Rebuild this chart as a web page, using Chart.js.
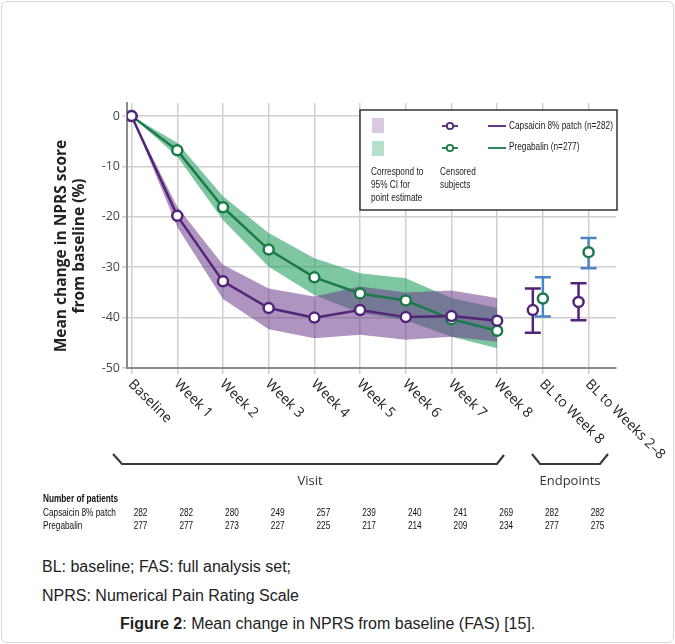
<!DOCTYPE html>
<html>
<head>
<meta charset="utf-8">
<script src="https://cdn.jsdelivr.net/npm/chart.js@4.4.1/dist/chart.umd.min.js"></script>
<style>
  body { margin: 0; background: #fff; }
  #frame { position: absolute; left: 1px; top: 1px; width: 671px; height: 640px; border: 1px solid #d6d6d6; border-radius: 6px; }
  #chartBox { position: absolute; left: 0; top: 0; width: 675px; height: 540px; }
  .note { position: absolute; left: 42px; font: 16px 'Liberation Sans', Arial, sans-serif; color: #222; white-space: nowrap; }
</style>
</head>
<body>
<div id="frame"></div>
<div id="chartBox"><canvas id="nprsChart" width="675" height="540"></canvas></div>
<div class="note" style="top:558px">BL: baseline; FAS: full analysis set;</div>
<div class="note" style="top:587px">NPRS: Numerical Pain Rating Scale</div>
<div class="note" style="top:615px; left:120px"><b>Figure 2</b>: Mean change in NPRS from baseline (FAS) [15].</div>
<script>
// Categories on the x axis
const visits = ['Baseline', 'Week 1', 'Week 2', 'Week 3', 'Week 4', 'Week 5', 'Week 6', 'Week 7', 'Week 8', 'BL to Week 8', 'BL to Weeks 2–8'];
const yTicks = [0, -10, -20, -30, -40, -50];

// Visit series (Baseline .. Week 8)
const capsaicinMean  = [0, -19.8, -32.8, -38.1, -40.0, -38.5, -39.9, -39.7, -40.6];
const capsaicinUpper = [0, -18.0, -29.5, -34.2, -35.8, -33.8, -35.0, -34.6, -36.1];
const capsaicinLower = [0, -22.0, -36.3, -42.3, -44.1, -43.4, -44.4, -43.8, -44.8];
const pregabalinMean  = [0, -6.8, -18.1, -26.5, -32.0, -35.2, -36.6, -40.3, -42.6];
const pregabalinUpper = [0, -5.3, -15.9, -23.2, -28.2, -31.2, -32.2, -36.1, -38.1];
const pregabalinLower = [0, -8.0, -20.6, -29.9, -35.5, -39.1, -40.5, -43.8, -46.1];

// Endpoints (BL to Week 8, BL to Weeks 2-8)
const capsaicinEp     = [-38.5, -36.9];
const capsaicinEpLow  = [-43.0, -40.5];
const capsaicinEpHigh = [-34.2, -33.2];
const pregabalinEp     = [-36.2, -27.0];
const pregabalinEpLow  = [-39.8, -30.2];
const pregabalinEpHigh = [-32.0, -24.2];

// Number of patients
const capsaicinN  = [282, 282, 280, 249, 257, 239, 240, 241, 269, 282, 282];
const pregabalinN = [277, 277, 273, 227, 225, 217, 214, 209, 234, 277, 275];

const PURPLE = '#52247a';
const GREEN = '#1b7a4a';
const BLUE = '#4a86c4';

const toXY = (arr, shift) => arr.map((v, i) => ({ x: i + (shift || 0), y: v }));
const epXY = (arr, shift) => arr.map((v, i) => ({ x: 9 + i + shift, y: v }));

// condensed text: Liberation Sans squeezed horizontally
function narrowText(ctx, text, x, y, align, bold) {
    ctx.save();
    ctx.font = (bold ? 'bold ' : '') + "11px 'Liberation Sans', Arial, sans-serif";
    ctx.textAlign = align;
    ctx.textBaseline = 'middle';
    ctx.translate(x, y);
    ctx.scale(0.75, 1);
    ctx.fillText(text, 0, 0);
    ctx.restore();
}

// Error bars, x labels, brackets, legend box and patient table
const extrasPlugin = {
    id: 'extras',
    beforeDatasetsDraw(chart) {
        const ctx = chart.ctx, xs = chart.scales.x, ys = chart.scales.y;
        const bars = [
            [capsaicinEpLow, capsaicinEpHigh, -0.22, PURPLE],
            [pregabalinEpLow, pregabalinEpHigh, 0, BLUE]
        ];
        ctx.save();
        ctx.lineWidth = 2.5;
        bars.forEach(([lo, hi, shift, color]) => {
            ctx.strokeStyle = color;
            lo.forEach((v, i) => {
                const x = xs.getPixelForValue(9 + i + shift);
                const y1 = ys.getPixelForValue(v), y2 = ys.getPixelForValue(hi[i]);
                ctx.beginPath();
                ctx.moveTo(x, y1); ctx.lineTo(x, y2);
                ctx.moveTo(x - 8, y1); ctx.lineTo(x + 8, y1);
                ctx.moveTo(x - 8, y2); ctx.lineTo(x + 8, y2);
                ctx.stroke();
            });
        });
        ctx.restore();
    },
    afterDraw(chart) {
        const ctx = chart.ctx, xs = chart.scales.x;
        const area = chart.chartArea;
        ctx.save();

        // y axis title
        ctx.fillStyle = '#222';
        ctx.font = "bold 15.5px 'Open Sans', sans-serif";
        ctx.textAlign = 'center';
        ctx.textBaseline = 'middle';
        ctx.save();
        ctx.translate(62, 246);
        ctx.rotate(-Math.PI / 2);
        ctx.fillText('Mean change in NPRS score', 0, 0);
        ctx.fillText('from baseline (%)', 0, 18);
        ctx.restore();

        // rotated x labels
        ctx.font = "14px 'Open Sans', sans-serif";
        ctx.fillStyle = '#222';
        ctx.textAlign = 'left';
        ctx.textBaseline = 'middle';
        visits.forEach((lab, i) => {
            const x = xs.getPixelForValue(i);
            ctx.save();
            ctx.translate(x - 1, area.bottom + 14);
            ctx.rotate(Math.PI / 4);
            ctx.fillText(lab, 0, 0);
            ctx.restore();
        });

        // brackets
        ctx.strokeStyle = '#3a3a3a';
        ctx.lineWidth = 2.2;
        ctx.beginPath();
        ctx.moveTo(113, 454); ctx.lineTo(122, 464); ctx.lineTo(497, 464); ctx.lineTo(504, 455);
        ctx.moveTo(532, 454); ctx.lineTo(540, 464); ctx.lineTo(600, 464); ctx.lineTo(608, 454);
        ctx.stroke();
        ctx.font = "13px 'Open Sans', sans-serif";
        ctx.fillStyle = '#333';
        ctx.textAlign = 'center';
        ctx.fillText('Visit', 310, 481);
        ctx.fillText('Endpoints', 570, 481);

        // patient table
        ctx.fillStyle = '#111';
        narrowText(ctx, 'Number of patients', 43, 499, 'left', true);
        narrowText(ctx, 'Capsaicin 8% patch', 43, 513, 'left');
        narrowText(ctx, 'Pregabalin', 43, 526, 'left');
        visits.forEach((_, i) => {
            const x = xs.getPixelForValue(i) + 9;
            narrowText(ctx, String(capsaicinN[i]), x, 513, 'center');
            narrowText(ctx, String(pregabalinN[i]), x, 526, 'center');
        });

        // legend box
        ctx.fillStyle = '#fff';
        ctx.fillRect(360, 110, 257, 100);
        ctx.strokeStyle = '#333';
        ctx.lineWidth = 1.5;
        ctx.strokeRect(360, 110, 257, 100);
        ctx.fillStyle = '#d9c9e0';
        ctx.fillRect(372, 118, 12, 15);
        ctx.fillStyle = '#b4dfcb';
        ctx.fillRect(372, 141, 12, 15);
        ctx.fillStyle = '#222';
        narrowText(ctx, 'Correspond to', 371, 172, 'left');
        narrowText(ctx, '95% CI for', 371, 185, 'left');
        narrowText(ctx, 'point estimate', 371, 198, 'left');
        narrowText(ctx, 'Censored', 440, 172, 'left');
        narrowText(ctx, 'subjects', 440, 185, 'left');
        narrowText(ctx, 'Capsaicin 8% patch (n=282)', 509, 126, 'left');
        narrowText(ctx, 'Pregabalin (n=277)', 509, 147, 'left');
        [[PURPLE, 126], [GREEN, 148]].forEach(([c, y]) => {
            ctx.strokeStyle = c;
            ctx.lineWidth = 1.8;
            ctx.beginPath(); ctx.moveTo(442, y); ctx.lineTo(458, y); ctx.stroke();
            ctx.fillStyle = '#fff';
            ctx.beginPath(); ctx.arc(450, y, 3.2, 0, Math.PI * 2); ctx.fill(); ctx.stroke();
            ctx.beginPath(); ctx.moveTo(488, y); ctx.lineTo(506, y); ctx.stroke();
        });
        ctx.restore();
    }
};

const pointStyle = (color) => ({
    borderColor: color,
    borderWidth: 2.5,
    pointRadius: 5,
    pointBorderWidth: 2.5,
    pointBackgroundColor: '#fff',
    pointBorderColor: color,
    tension: 0
});

new Chart(document.getElementById('nprsChart'), {
    type: 'line',
    data: {
        datasets: [
            { data: toXY(pregabalinUpper), fill: '+1', backgroundColor: 'rgba(40,160,100,0.6)', borderWidth: 0, pointRadius: 0, order: 5 },
            { data: toXY(pregabalinLower), fill: false, borderWidth: 0, pointRadius: 0, order: 5 },
            { data: toXY(capsaicinUpper), fill: '+1', backgroundColor: 'rgba(110,60,140,0.55)', borderWidth: 0, pointRadius: 0, order: 4 },
            { data: toXY(capsaicinLower), fill: false, borderWidth: 0, pointRadius: 0, order: 4 },
            { data: toXY(pregabalinMean), ...pointStyle(GREEN), order: 1 },
            { data: toXY(capsaicinMean), ...pointStyle(PURPLE), order: 0 },
            { data: epXY(capsaicinEp, -0.22), showLine: false, ...pointStyle(PURPLE), order: 0 },
            { data: epXY(pregabalinEp, 0), showLine: false, ...pointStyle(GREEN), order: 0 }
        ]
    },
    options: {
        responsive: false,
        devicePixelRatio: 1,
        animation: false,
        layout: { padding: { top: 103, right: 59, left: 0, bottom: 0 } },
        plugins: { legend: { display: false }, tooltip: { enabled: false } },
        scales: {
            x: {
                type: 'linear',
                min: -0.1,
                max: 10.6,
                afterBuildTicks: (s) => { s.ticks = visits.map((_, i) => ({ value: i })); },
                afterFit: (s) => { s.height = 172; },
                ticks: { display: false },
                grid: { color: '#cfcfcf', lineWidth: 1.5, tickLength: 6 },
                border: { color: '#8a8a8a', width: 2 }
            },
            y: {
                min: -50,
                max: 2.6,
                ticks: { stepSize: 10, color: '#444', font: { family: "'Open Sans', sans-serif", size: 12.5 }, padding: 2 },
                afterBuildTicks: (s) => { s.ticks = yTicks.map(v => ({ value: v })); },
                afterFit: (s) => { s.width = 127; },
                grid: { color: '#cfcfcf', lineWidth: 1.5, tickLength: 5 },
                border: { color: '#8a8a8a', width: 2 }
            }
        }
    },
    plugins: [extrasPlugin]
});
</script>
</body>
</html>
